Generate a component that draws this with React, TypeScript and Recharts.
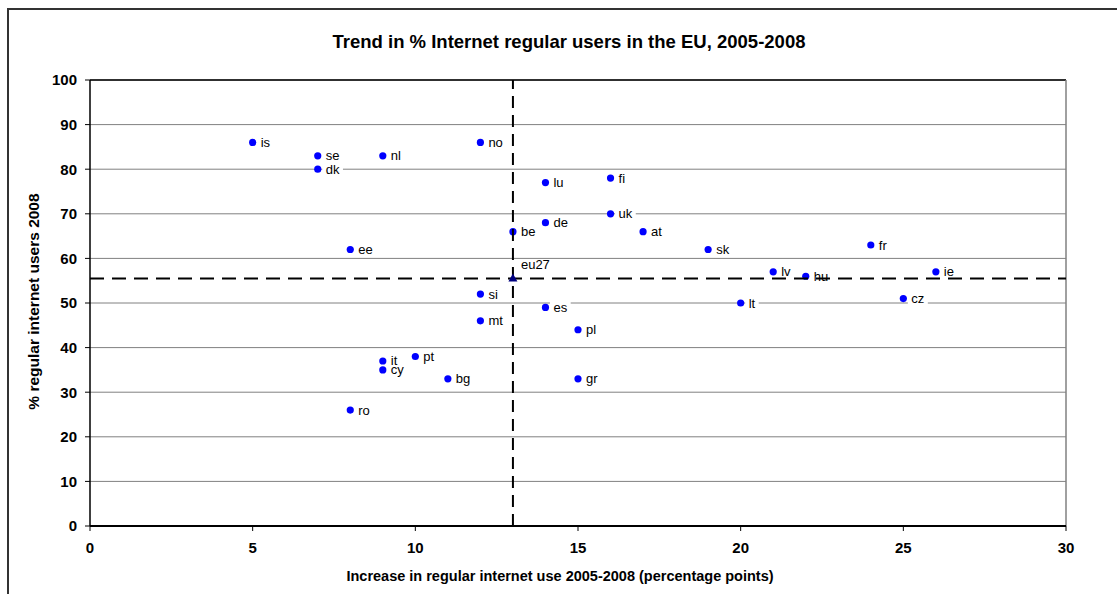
import React from 'react';
import { ScatterChart, Scatter, XAxis, YAxis, CartesianGrid, ReferenceLine, Label } from 'recharts';

const countries = ['is', 'se', 'dk', 'nl', 'no', 'lu', 'fi', 'uk', 'de', 'be', 'at', 'sk', 'ee', 'fr', 'lv', 'hu', 'ie', 'cz', 'lt', 'si', 'es', 'mt', 'pl', 'pt', 'it', 'cy', 'bg', 'gr', 'ro'];
const increase = [5, 7, 7, 9, 12, 14, 16, 16, 14, 13, 17, 19, 8, 24, 21, 22, 26, 25, 20, 12, 14, 12, 15, 10, 9, 9, 11, 15, 8];
const users2008 = [86, 83, 80, 83, 86, 77, 78, 70, 68, 66, 66, 62, 62, 63, 57, 56, 57, 51, 50, 52, 49, 46, 44, 38, 37, 35, 33, 33, 26];

const euLabel = 'eu27';
const euIncrease = 13;
const euUsers = 55.5;

const xTicks = [0, 5, 10, 15, 20, 25, 30];
const yTicks = [0, 10, 20, 30, 40, 50, 60, 70, 80, 90, 100];

const titleText = 'Trend in % Internet regular users in the EU, 2005-2008';
const xTitle = 'Increase in regular internet use 2005-2008 (percentage points)';
const yTitle = '% regular internet users 2008';

const countryData = countries.map((name, i) => ({ name, x: increase[i], y: users2008[i] }));
const euData = [{ name: euLabel, x: euIncrease, y: euUsers }];
const vLine = [{ x: euIncrease, y: 0 }, { x: euIncrease, y: 100 }];
const hLine = [{ x: 0, y: euUsers }, { x: 30, y: euUsers }];

const FONT = "Arial, 'Liberation Sans', Helvetica, sans-serif";

const charW: Record<string, number> = {
  a: .556, b: .556, c: .5, d: .556, e: .556, f: .278, g: .556, h: .556, i: .222, j: .222, k: .5, l: .222, m: .833,
  n: .556, o: .556, p: .556, q: .556, r: .333, s: .5, t: .278, u: .556, v: .5, w: .722, x: .5, y: .5, z: .5,
};
const textWidth = (s: string, size: number) => s.split('').reduce((a, c) => a + (charW[c] ?? .556) * size, 0);

const LabelBgShape = (props: any) => {
  const { cx, cy, payload } = props;
  const w = textWidth(payload.name, 13);
  return <rect x={cx + 4.5} y={cy - 6} width={w + 7} height={12} fill="#fff" />;
};

const CountryShape = (props: any) => {
  const { cx, cy, payload } = props;
  return (
    <g>
      <circle cx={cx} cy={cy} r={3.6} fill="#0000FF" />
      <text x={cx + 8} y={cy + 4.5} fontSize={13} fontFamily={FONT} fill="#000">{payload.name}</text>
    </g>
  );
};

const EuShape = (props: any) => {
  const { cx, cy, payload } = props;
  return (
    <g>
      <polygon points={`${cx},${cy - 5} ${cx + 4.5},${cy + 3} ${cx - 4.5},${cy + 3}`} fill="#000080" />
      <text x={cx + 8} y={cy - 9} fontSize={13} fontFamily={FONT} fill="#000">{payload.name}</text>
    </g>
  );
};

const NoShape = () => <g />;

export default function App() {
  return (
    <div style={{ position: 'fixed', left: 0, top: 0, width: 1117, height: 594, background: '#fff', overflow: 'hidden' }}>
      <div style={{ position: 'absolute', left: 7, top: 8, width: 1200, height: 700, borderLeft: '2px solid #333', borderTop: '2px solid #333' }} />
      <div style={{ position: 'absolute', left: 369, top: 31, width: 400, textAlign: 'center', whiteSpace: 'nowrap', fontFamily: FONT, fontWeight: 'bold', fontSize: 18.5, color: '#000' }}>
        <span style={{ display: 'inline-block', marginLeft: -200, marginRight: -200 }}>{titleText}</span>
      </div>
      <div style={{ position: 'absolute', left: 0, top: 0 }}>
        <ScatterChart width={1117} height={594} margin={{ top: 80, right: 51, bottom: 28, left: 10 }}>
          <CartesianGrid horizontal vertical={false} stroke="#808080" strokeWidth={1} />
          <XAxis
            type="number"
            dataKey="x"
            domain={[0, 30]}
            ticks={xTicks}
            allowDecimals={false}
            height={40}
            tickSize={5}
            tickMargin={11}
            axisLine={{ stroke: '#000', strokeWidth: 2 }}
            tickLine={{ stroke: '#000' }}
            tick={{ fill: '#000', fontSize: 15, fontWeight: 'bold', fontFamily: FONT }}
          >
            <Label
              content={(p: any) => (
                <text x={560} y={p.viewBox.y + 55} textAnchor="middle" fontSize={14.5} fontWeight="bold" fontFamily={FONT} fill="#000">{xTitle}</text>
              )}
            />
          </XAxis>
          <YAxis
            type="number"
            dataKey="y"
            domain={[0, 100]}
            ticks={yTicks}
            width={80}
            tickSize={5}
            tickMargin={8}
            axisLine={{ stroke: '#000', strokeWidth: 1.5 }}
            tickLine={{ stroke: '#000' }}
            tick={{ fill: '#000', fontSize: 15, fontWeight: 'bold', fontFamily: FONT }}
          >
            <Label
              content={(p: any) => {
                const cx = 33;
                const cy = 301.5;
                return (
                  <text x={cx} y={cy} transform={`rotate(-90 ${cx} ${cy})`} textAnchor="middle" dominantBaseline="central" fontSize={15.5} fontWeight="bold" fontFamily={FONT} fill="#000">{yTitle}</text>
                );
              }}
            />
          </YAxis>
          <ReferenceLine y={100} stroke="#000" strokeWidth={1.5} />
          <ReferenceLine x={30} stroke="#808080" strokeWidth={1.5} />
          <Scatter data={countryData} shape={LabelBgShape} isAnimationActive={false} />
          <Scatter data={countryData} shape={CountryShape} isAnimationActive={false} />
          <Scatter data={vLine} shape={NoShape} line={{ stroke: '#000', strokeWidth: 2, strokeDasharray: '12 7' }} isAnimationActive={false} />
          <Scatter data={hLine} shape={NoShape} line={{ stroke: '#000', strokeWidth: 2, strokeDasharray: '14 8' }} isAnimationActive={false} />
          <Scatter data={euData} shape={EuShape} isAnimationActive={false} />
        </ScatterChart>
      </div>
    </div>
  );
}
